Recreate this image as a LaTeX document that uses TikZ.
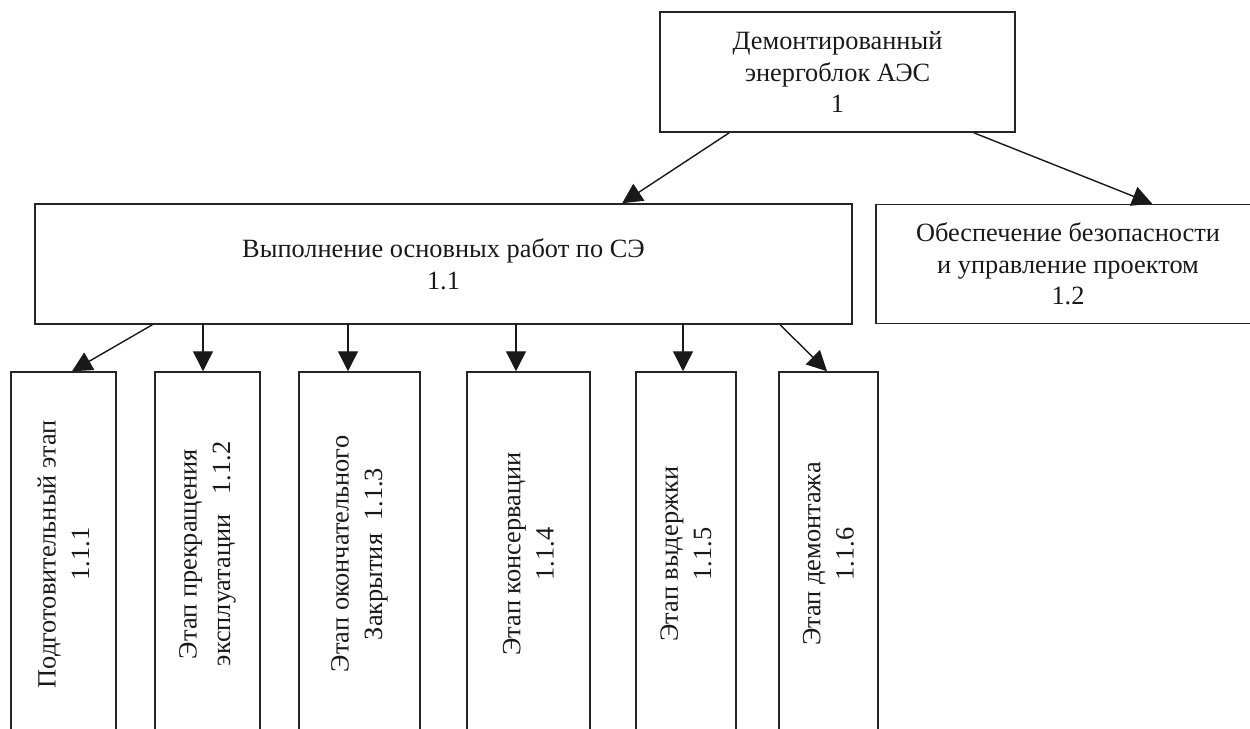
\documentclass[tikz,border=0pt]{standalone}
\usepackage{fontspec}
\setmainfont{Liberation Serif}
\usetikzlibrary{arrows.meta}

\begin{document}
\begin{tikzpicture}[
    x=0.02cm,
    y=-0.02cm,
    block/.style={
        rectangle,
        draw=black!85,
        line width=0.9pt,
        align=center,
        text=black!90,
        font=\fontsize{15}{18}\selectfont,
        inner sep=2pt
    },
    stage/.style={
        block,
        rotate=90,
        font=\fontsize{15}{19}\selectfont,
        minimum width=7.28cm
    },
    link/.style={
        draw=black!90,
        line width=0.8pt,
        -{Triangle[length=0.4cm, width=0.4cm]}
    }
]
    \useasboundingbox (0,0) rectangle (1250,728);
    \clip (0,0) rectangle (1250,728);

    \node[block, minimum width=7.1cm, minimum height=2.4cm] (root) at (837.5,72)
        {Демонтированный\\энергоблок АЭС\\1};
    \node[block, minimum width=16.34cm, minimum height=2.4cm] (works) at (443.5,264)
        {Выполнение основных работ по СЭ\\1.1};
    \node[block, minimum width=7.68cm, minimum height=2.38cm] (safety) at (1068,264)
        {Обеспечение безопасности\\и управление проектом\\1.2};

    \foreach \name/\x/\w/\txt in {
        s1/63.5/2.1/{Подготовительный этап\\1.1.1},
        s2/207.5/2.1/{Этап прекращения\\эксплуатации\ \ \ 1.1.2},
        s3/359.5/2.42/{Этап окончательного\\Закрытия\ \ 1.1.3},
        s4/528.5/2.46/{Этап консервации\\1.1.4},
        s5/686/2.0/{Этап выдержки\\1.1.5},
        s6/828.5/1.98/{Этап демонтажа\\1.1.6}%
    } {
        \node[stage, minimum height=\w cm] (\name) at (\x,554) {\txt};
    }

    \draw[link] ([xshift=1.4cm]root.south west) -- ([xshift=11.76cm]works.north west);
    \draw[link] ([xshift=-0.84cm]root.south east) -- ([xshift=5.54cm]safety.north west);

    \draw[link] ([xshift=2.36cm]works.south west) -- ([xshift=0.17cm]s1.east);
    \foreach \name/\dx in {s2/-0.09, s3/-0.23, s4/-0.25, s5/-0.06} {
        \draw[link] ([xshift=\dx cm, yshift=0.96cm]\name.east) -- ([xshift=\dx cm]\name.east);
    }
    \draw[link] ([xshift=14.92cm]works.south west) -- ([xshift=-0.03cm]s6.east);

\end{tikzpicture}
\end{document}
